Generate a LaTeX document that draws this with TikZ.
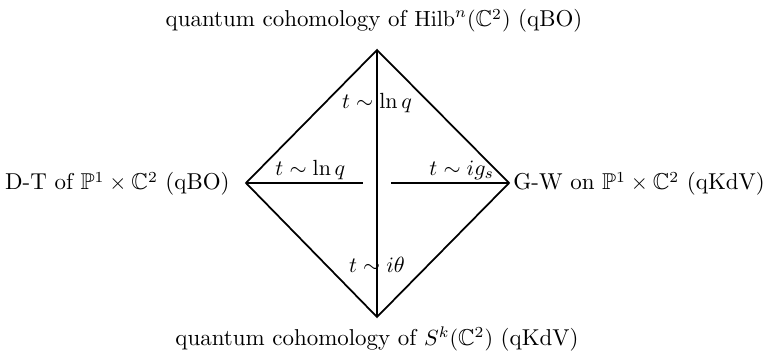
\documentclass[tikz,border=0pt]{standalone}
\usepackage{amsmath,amssymb}
\usepackage{tikz}
\usetikzlibrary{positioning, calc}
\tikzset{
    corner_text/.style={inner sep=0pt, font=\fontsize{10.45}{12.5}\selectfont},
    edge_text/.style={inner sep=1pt, font=\fontsize{10.45}{12.5}\selectfont},
    link/.style={thick}
}

\begin{document}
\begin{tikzpicture}[x=0.016cm, y=-0.016cm]
    \useasboundingbox (0,0) rectangle (765,356);
    % corners of the diamond
    \coordinate (top) at (377,50);
    \coordinate (bot) at (377,317);
    \coordinate (lft) at (246,183);
    \coordinate (rgt) at (509,183);
    \coordinate (lgap) at (363,183);
    \coordinate (rgap) at (391,183);

    \node (hilb) [corner_text, anchor=base] at (374,27) {quantum cohomology of $\mathrm{Hilb}^n(\mathbb{C}^2)$ (qBO)};
    \node (sym) [corner_text, anchor=base] at (377,345) {quantum cohomology of $S^k(\mathbb{C}^2)$ (qKdV)};
    \node (dt) [corner_text, anchor=base east] at (230,190) {D-T of $\mathbb{P}^1\times\mathbb{C}^2$ (qBO)};
    \node (gw) [corner_text, anchor=base west] at (513,190) {G-W on $\mathbb{P}^1\times\mathbb{C}^2$ (qKdV)};

    \draw [link] (lft) -- (top) -- (rgt) -- (bot) -- cycle;
    \draw [link] (top) -- node[edge_text, pos=0.2]{$t\sim\ln q$} node[edge_text, pos=0.805]{$t\sim i\theta$} (bot);
    \draw [link] (lft) -- node[edge_text, above, pos=0.55]{$t\sim\ln q$} (lgap);
    \draw [link] (rgap) -- node[edge_text, above, pos=0.6]{$t\sim ig_s$} (rgt);
\end{tikzpicture}
\end{document}
